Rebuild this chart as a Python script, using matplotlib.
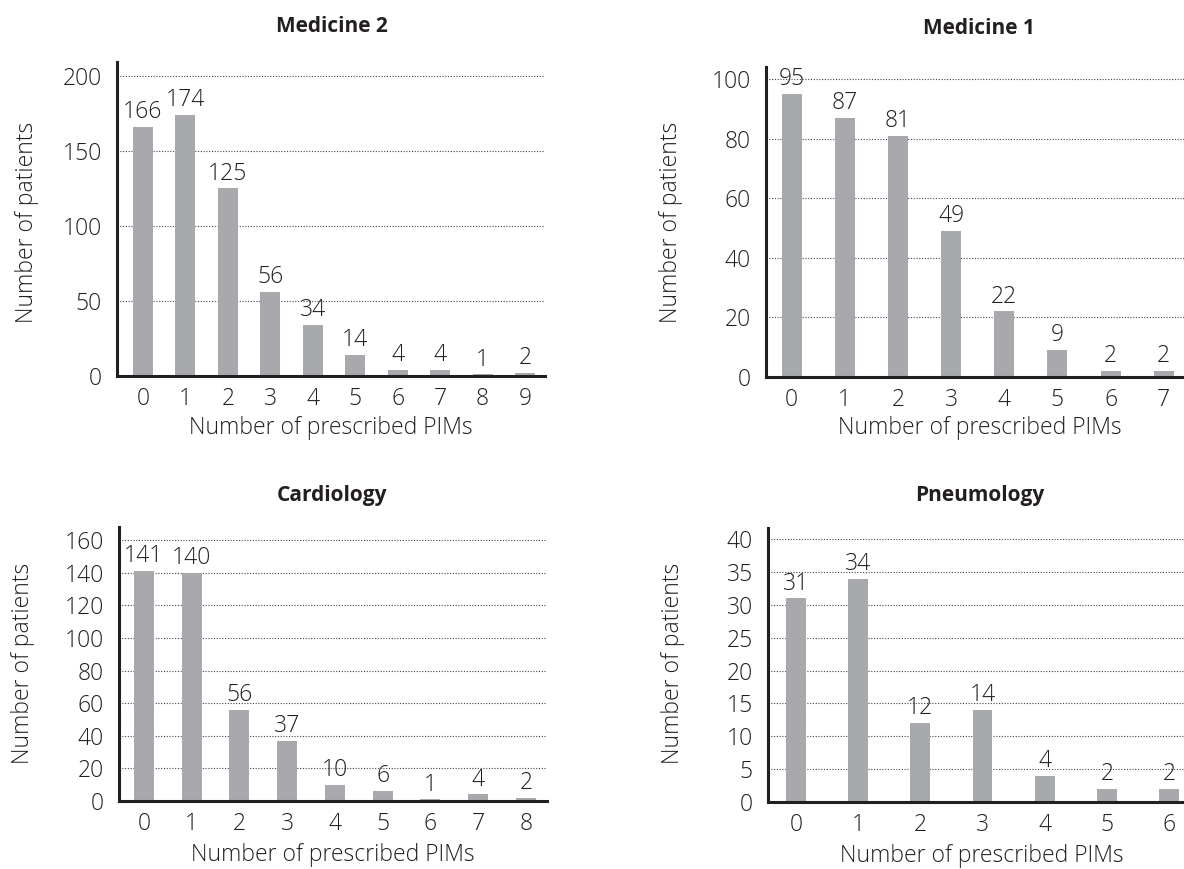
import numpy as np
import matplotlib
matplotlib.use("Agg")
import matplotlib.pyplot as plt

plt.rcParams['font.family'] = ['Open Sans', 'DejaVu Sans']

# data per ward
titles = ['Medicine 2', 'Medicine 1', 'Cardiology', 'Pneumology']
med2 = [166, 174, 125, 56, 34, 14, 4, 4, 1, 2]
med1 = [95, 87, 81, 49, 22, 9, 2, 2]
cardio = [141, 140, 56, 37, 10, 6, 1, 4, 2]
pneumo = [31, 34, 12, 14, 4, 2, 2]
yticks = [[0, 50, 100, 150, 200],
          [0, 20, 40, 60, 80, 100],
          [0, 20, 40, 60, 80, 100, 120, 140, 160],
          [0, 5, 10, 15, 20, 25, 30, 35, 40]]

W, H = 1184, 869
fig = plt.figure(figsize=(W / 100, H / 100), dpi=100)

bar_color = '#a7a9ac'
ink = '#231f20'
fs = 16.5

# axes boxes in pixels: left, right, bottom, top, plus limits and bar width
boxes = [(117, 545, 376, 61.7, (-0.61, 9.47), 209.5, 0.47),
         (766, 1184, 377, 66.7, (-0.48, 7.38), 104.2, 0.376),
         (119, 547, 801, 527, (-0.52, 8.44), 168.0, 0.42),
         (768, 1184, 802, 528, (-0.45, 6.24), 41.7, 0.32)]
title_pos = [(332, 27), (979, 28), (332, 495), (980, 495)]
ylab_pos = [(27, 222), (671, 222), (23, 663), (673, 663)]
xlab_pos = [(331, 428), (980, 428), (333, 855), (982, 856)]

for i, vals in enumerate([med2, med1, cardio, pneumo]):
    l, r, b, t, xl, ytop, bw = boxes[i]
    ax = fig.add_axes([l / W, 1 - b / H, (r - l) / W, (b - t) / H])
    x = np.arange(len(vals))
    bars = ax.bar(x, vals, width=bw, color=bar_color, zorder=2)
    ax.bar_label(bars, padding=2, fontsize=fs, fontweight='light', color=ink, zorder=3)
    ax.set_xlim(*xl)
    ax.set_ylim(0, ytop)
    ax.set_xticks(x)
    ax.set_yticks(yticks[i])
    for yv in yticks[i][1:]:
        ax.axhline(yv, color='#444444', lw=0.8, ls=(0, (1, 1.5)), zorder=1)
    ax.tick_params(length=0, labelsize=fs, colors=ink)
    ax.tick_params(axis='y', pad=11)
    ax.tick_params(axis='x', pad=8)
    for lab in ax.get_xticklabels() + ax.get_yticklabels():
        lab.set_fontweight('light')
    for s in ['top', 'right']:
        ax.spines[s].set_visible(False)
    for s in ['left', 'bottom']:
        ax.spines[s].set_linewidth(2.2)
        ax.spines[s].set_color(ink)
    ax.patch.set_alpha(0)

    tx, ty = title_pos[i]
    fig.text(tx / W, 1 - ty / H, titles[i], ha='center', va='center',
             fontsize=15, fontweight='bold', color=ink)
    yx, yy = ylab_pos[i]
    fig.text(yx / W, 1 - yy / H, 'Number of patients', ha='center', va='center',
             rotation=90, fontsize=fs, fontweight='light', color=ink)
    xx, xy = xlab_pos[i]
    fig.text(xx / W, 1 - xy / H, 'Number of prescribed PIMs', ha='center',
             va='center', fontsize=fs, fontweight='light', color=ink)

fig.savefig('out.png', dpi=100)
